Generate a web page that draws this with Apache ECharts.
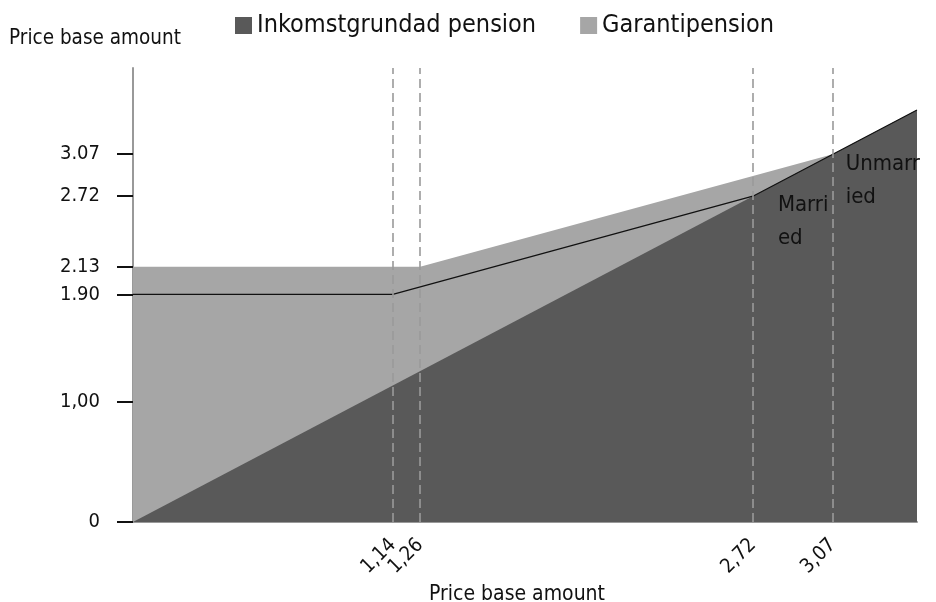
<!DOCTYPE html>
<html>
<head>
<meta charset="utf-8">
<script src="https://cdn.jsdelivr.net/npm/echarts@6/dist/echarts.min.js"></script>
<style>
html,body{margin:0;padding:0;background:#fff;}
#main{width:936px;height:602px;}
</style>
</head>
<body>
<div id="main"></div>
<script>
// x ticks (price base amount of income) and y ticks
var xTicks = [1.14, 1.26, 2.72, 3.07];
var yTicks = [0, 1.00, 1.90, 2.13, 2.72, 3.07];
var yTickLabels = ['0', '1,00', '1.90', '2.13', '2.72', '3.07'];
var xMax = 3.44;

// income pension = the diagonal
var incomePension = [[0, 0], [3.44, 3.44]];
// total incl. guarantee pension (unmarried)
var totalUnmarried = [[0, 2.13], [1.26, 2.13], [3.07, 3.07], [3.44, 3.44]];
// total incl. guarantee pension (married)
var totalMarried = [[0, 1.90], [1.14, 1.90], [2.72, 2.72], [3.44, 3.44]];

var FONT = '"Liberation Sans Narrow", "DejaVu Sans Condensed", sans-serif';
var DARK = '#595959', LIGHT = '#a6a6a6';

function commaFmt(v) { return v.toFixed(2).replace('.', ','); }

// 1,14 and 1,26 sit so close that one gets dropped, so the first one goes on its own axis
function xAxisFor(values, main) {
  return {
    type: 'value', min: 0, max: xMax, position: 'bottom',
    name: main ? 'Price base amount' : '', nameLocation: 'middle', nameGap: 60,
    nameTextStyle: { fontFamily: FONT, fontSize: 21, color: '#111', padding: [0, 16, 0, 0] },
    axisLine: { show: main, lineStyle: { color: '#999', width: 2 } },
    axisTick: { show: false },
    splitLine: { show: false },
    axisLabel: {
      customValues: values, rotate: 45, margin: 20, hideOverlap: false,
      fontFamily: FONT, fontSize: 20, color: '#111',
      formatter: commaFmt
    }
  };
}

var myChart = echarts.init(document.getElementById('main'));
myChart.setOption({
  animation: false,
  textStyle: { fontFamily: FONT, color: '#111' },
  grid: { left: 133, right: 19, top: 68, bottom: 80, containLabel: false, outerBoundsMode: 'none' },
  legend: {
    data: ['Inkomstgrundad pension', 'Garantipension'],
    left: 230, top: 8,
    itemWidth: 17, itemHeight: 17, itemGap: 44,
    icon: 'rect',
    textStyle: { fontFamily: FONT, fontSize: 25, color: '#111' }
  },
  xAxis: [xAxisFor(xTicks.slice(1), true), xAxisFor(xTicks.slice(0, 1), false)],
  yAxis: {
    type: 'value', min: 0, max: 3.79, offset: 4,
    name: 'Price base amount', nameLocation: 'end', nameGap: 19,
    nameTextStyle: { fontFamily: FONT, fontSize: 20.5, color: '#111', align: 'center', padding: [0, 76, 0, 0] },
    axisLine: { show: true, lineStyle: { color: '#999', width: 2 } },
    axisTick: { show: true, customValues: yTicks, length: 16, lineStyle: { color: '#111', width: 2 } },
    splitLine: { show: false },
    axisLabel: {
      customValues: yTicks, margin: 29, hideOverlap: false,
      fontFamily: FONT, fontSize: 20, color: '#111',
      formatter: function (v) { return yTickLabels[yTicks.indexOf(v)]; }
    }
  },
  series: [
    {
      name: 'Garantipension', type: 'line', data: totalUnmarried,
      symbol: 'none', lineStyle: { width: 0 },
      itemStyle: { color: LIGHT }, areaStyle: { color: LIGHT, opacity: 1 },
      z: 1,
      markPoint: {
        symbol: 'rect', symbolSize: 0, silent: true,
        label: { show: true, align: 'left', verticalAlign: 'top', fontFamily: FONT, fontSize: 22, lineHeight: 33, color: '#111' },
        data: [
          { coord: [3.07, 3.07], label: { formatter: 'Unmarr\nied', position: [13, -6] } },
          { coord: [2.72, 2.72], label: { formatter: 'Marri\ned', position: [25, -7] } }
        ]
      }
    },
    {
      name: 'Inkomstgrundad pension', type: 'line', data: incomePension,
      symbol: 'none', lineStyle: { width: 0 },
      itemStyle: { color: DARK }, areaStyle: { color: DARK, opacity: 1 },
      z: 2
    },
    {
      name: 'Married', type: 'line', data: totalMarried,
      symbol: 'none', lineStyle: { color: '#111', width: 1.2 },
      itemStyle: { color: '#111' },
      z: 3,
      markLine: {
        silent: true, symbol: 'none',
        label: { show: false },
        lineStyle: { color: '#9a9a9a', type: [9, 5], width: 1.6 },
        data: xTicks.map(function (v) { return { xAxis: v }; })
      }
    }
  ]
});
</script>
</body>
</html>
